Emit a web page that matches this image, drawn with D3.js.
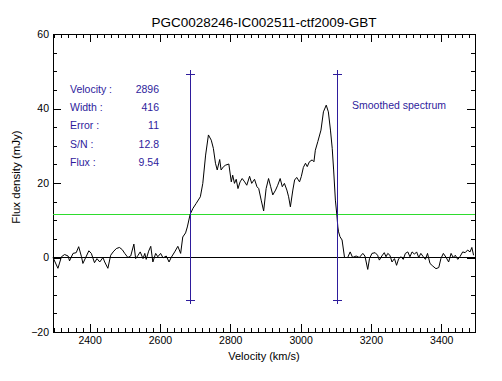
<!DOCTYPE html>
<html>
<head>
<meta charset="utf-8">
<script src="https://cdn.jsdelivr.net/npm/d3@7"></script>
<style>
  body { margin: 0; background: #fff; }
  svg { display: block; }
  text { font-family: "Liberation Sans", Arial, sans-serif; }
</style>
</head>
<body>
<div id="chart"></div>
<script>
// Spectrum (km/s, mJy)
const velocity = [
  2296, 2310, 2320, 2329, 2339, 2343, 2353, 2362, 2369, 2377,
  2381, 2389, 2398, 2405, 2414, 2421, 2429, 2438, 2443, 2452,
  2460, 2467, 2476, 2485, 2493, 2500, 2509, 2517, 2526, 2531,
  2538, 2544, 2552, 2557, 2561, 2568, 2574, 2580, 2588, 2594,
  2602, 2609, 2618, 2626, 2632, 2642, 2651, 2659, 2665, 2673,
  2678, 2686, 2694, 2703, 2715, 2722, 2730, 2738, 2746, 2752,
  2758, 2763, 2770, 2774, 2781, 2787, 2796, 2803, 2807, 2812,
  2817, 2822, 2828, 2834, 2841, 2847, 2855, 2861, 2869, 2876,
  2881, 2888, 2895, 2902, 2909, 2915, 2921, 2929, 2935, 2942,
  2948, 2954, 2961, 2966, 2971, 2978, 2983, 2989, 2997, 3002,
  3008, 3014, 3019, 3025, 3033, 3038, 3042, 3049, 3058, 3065,
  3073, 3079, 3085, 3090, 3094, 3099, 3103, 3106, 3108, 3112,
  3118, 3125, 3134, 3141, 3148, 3158, 3167, 3177, 3183, 3191,
  3196, 3203, 3212, 3219, 3224, 3231, 3238, 3243, 3248, 3254,
  3260, 3267, 3273, 3279, 3286, 3292, 3298, 3305, 3311, 3317,
  3324, 3330, 3336, 3342, 3349, 3355, 3361, 3368, 3376, 3385,
  3393, 3399, 3406, 3414, 3421, 3428, 3434, 3440, 3447, 3453,
  3461, 3468, 3475, 3482, 3487, 3492
];
const flux = [
  0, -2.9, 0.2, 0.8, 0.4, -0.9, 1.1, 1.3, 2.9, 0.2,
  -1.6, 0, 1.8, 1.1, -1.4, -0.3, -1.2, 0, -1.2, -2.9,
  0.6, 1.5, 2.4, 2.7, 2.1, 1.1, 0, 0.4, 3.6, -0.3,
  0.6, 1.5, -0.3, 1.1, -0.5, 1.7, 3.0, -1.2, 1.1, 0.2,
  1.1, -0.1, 0.4, -1.2, 0, 1.5, 3.0, 1.1, 5.5, 6.6,
  8.2, 11.6, 13.2, 14.5, 16.3, 19.9, 27.5, 32.9, 31.5, 29.3,
  25.3, 23.5, 26.3, 23.5, 24.4, 24.8, 25.1, 20.3, 22.1, 19.9,
  21.0, 18.5, 20.3, 21.2, 20.3, 19.4, 21.8, 19.9, 21.0, 19.0,
  18.5, 15.4, 12.5, 18.5, 21.2, 19.0, 16.8, 18.1, 19.4, 21.2,
  19.0, 19.9, 18.1, 16.3, 13.6, 18.1, 20.8, 21.5, 20.3, 21.7,
  24.2, 25.3, 24.4, 25.7, 26.2, 25.7, 28.8, 31.1, 34.2, 39.1,
  40.9, 39.1, 34.2, 29.3, 23.5, 15.4, 11.6, 8.2, 6.9, 5.6,
  4.7, 0, 0, 1.5, 0, 0.4, 0, 1.1, 0.4, -3.2,
  -0.3, 1.1, 1.3, 0.6, -0.7, 0.4, 1.3, 0.2, 1.1, 0.6,
  -1.2, -0.3, -2.1, -0.3, 0.2, -0.5, 1.1, 1.5, 0.2, 1.5,
  0.9, 1.5, 0, 1.1, 0.2, -0.5, 1.1, -1.6, -2.3, -3.0,
  -2.7, -0.3, 1.1, 0, -1.2, 1.1, 0, 0.6, -0.5, 0.2,
  1.5, 1.3, 2.0, 1.5, 2.7, 0.6
];

// Measured line parameters
const statLabels = ['Velocity :', 'Width :', 'Error :', 'S/N :', 'Flux :'];
const statValues = ['2896', '416', '11', '12.8', '9.54'];
const lineEdges = [2688, 3104];     // velocity +/- width/2
const markerRange = [-11.3, 49.3];  // vertical extent of edge markers
const level = 11.6;                 // green level line

const xTicks = [2400, 2600, 2800, 3000, 3200, 3400];
const yTicks = [-20, 0, 20, 40, 60];

const width = 502, height = 381;
const m = { left: 53, right: 475, top: 34, bottom: 332 };
const ink = '#2e1c9c';

const svg = d3.select('#chart').append('svg')
    .attr('width', width)
    .attr('height', height)
    .style('background', '#fff');

const x = d3.scaleLinear().domain([2296, 3496]).range([m.left, m.right]);
const y = d3.scaleLinear().domain([-20, 60]).range([m.bottom, m.top]);

// title
svg.append('text')
    .attr('x', 264)
    .attr('y', 26.5)
    .attr('text-anchor', 'middle')
    .style('font-size', '13.5px')
    .text('PGC0028246-IC002511-ctf2009-GBT');

// minor ticks
const xMinor = d3.range(2300, 3496, 20);
const yMinor = d3.range(-20, 60.1, 5);

function styleAxis(g) {
    g.selectAll('path, line').attr('stroke', '#000').attr('shape-rendering', 'crispEdges');
    g.selectAll('text').attr('fill', '#000').style('font-size', '10.5px')
        .style('font-family', '"Liberation Sans", Arial, sans-serif');
}

// bottom axis with labels
svg.append('g')
    .attr('transform', `translate(0,${m.bottom})`)
    .call(d3.axisBottom(x).tickValues(xMinor).tickSizeInner(-4).tickSizeOuter(0).tickFormat(''))
    .call(styleAxis);
svg.append('g')
    .attr('transform', `translate(0,${m.bottom})`)
    .call(d3.axisBottom(x).tickValues(xTicks).tickSizeInner(-8).tickSizeOuter(0).tickPadding(5).tickFormat(d3.format('d')))
    .call(styleAxis);

// top axis, no labels
svg.append('g')
    .attr('transform', `translate(0,${m.top})`)
    .call(d3.axisTop(x).tickValues(xMinor).tickSizeInner(-4).tickSizeOuter(0).tickFormat(''))
    .call(styleAxis);
svg.append('g')
    .attr('transform', `translate(0,${m.top})`)
    .call(d3.axisTop(x).tickValues(xTicks).tickSizeInner(-8).tickSizeOuter(0).tickFormat(''))
    .call(styleAxis);

// left axis with labels
svg.append('g')
    .attr('transform', `translate(${m.left},0)`)
    .call(d3.axisLeft(y).tickValues(yMinor).tickSizeInner(-4).tickSizeOuter(0).tickFormat(''))
    .call(styleAxis);
svg.append('g')
    .attr('transform', `translate(${m.left},0)`)
    .call(d3.axisLeft(y).tickValues(yTicks).tickSizeInner(-8).tickSizeOuter(0).tickPadding(4).tickFormat(d => d < 0 ? '\u2212' + Math.abs(d) : d))
    .call(styleAxis);

// right axis, no labels
svg.append('g')
    .attr('transform', `translate(${m.right},0)`)
    .call(d3.axisRight(y).tickValues(yMinor).tickSizeInner(-4).tickSizeOuter(0).tickFormat(''))
    .call(styleAxis);
svg.append('g')
    .attr('transform', `translate(${m.right},0)`)
    .call(d3.axisRight(y).tickValues(yTicks).tickSizeInner(-8).tickSizeOuter(0).tickFormat(''))
    .call(styleAxis);

// axis titles
svg.append('text')
    .attr('x', 264)
    .attr('y', 360)
    .attr('text-anchor', 'middle')
    .style('font-size', '11px')
    .text('Velocity (km/s)');

svg.append('text')
    .attr('transform', 'translate(20,177) rotate(-90)')
    .attr('text-anchor', 'middle')
    .style('font-size', '11.5px')
    .text('Flux density (mJy)');

// zero line
svg.append('line')
    .attr('x1', m.left).attr('x2', m.right)
    .attr('y1', y(0)).attr('y2', y(0))
    .attr('stroke', '#000')
    .attr('shape-rendering', 'crispEdges');

// green level
svg.append('line')
    .attr('x1', m.left).attr('x2', m.right)
    .attr('y1', y(level)).attr('y2', y(level))
    .attr('stroke', '#2edc2e')
    .attr('shape-rendering', 'crispEdges');

// spectrum
const points = velocity.map((v, i) => [v, flux[i]]);
svg.append('path')
    .datum(points)
    .attr('fill', 'none')
    .attr('stroke', '#000')
    .attr('stroke-width', 1)
    .attr('d', d3.line().x(d => x(d[0])).y(d => y(d[1])));

// edge markers, snapped to the pixel grid
const edges = svg.append('g').attr('stroke', ink).attr('stroke-width', 1);
lineEdges.forEach(v => {
    const px = Math.floor(x(v)) + 0.5;
    edges.append('line')
        .attr('x1', px).attr('x2', px)
        .attr('y1', Math.round(y(markerRange[1])) - 4).attr('y2', Math.round(y(markerRange[0])) + 4);
    markerRange.forEach(f => {
        const py = Math.round(y(f)) + 0.5;
        edges.append('line')
            .attr('x1', px - 4.5).attr('x2', px + 4.5)
            .attr('y1', py).attr('y2', py);
    });
});

// stats panel
const stats = svg.append('g').attr('fill', ink).style('font-size', '10.5px');
statLabels.forEach((s, i) => {
    stats.append('text').attr('x', 70).attr('y', 93 + i * 18.2).text(s);
    stats.append('text').attr('x', 159).attr('y', 93 + i * 18.2)
        .attr('text-anchor', 'end').text(statValues[i]);
});

svg.append('text')
    .attr('x', 352)
    .attr('y', 109)
    .attr('fill', ink)
    .style('font-size', '10.5px')
    .text('Smoothed spectrum');
</script>
</body>
</html>
